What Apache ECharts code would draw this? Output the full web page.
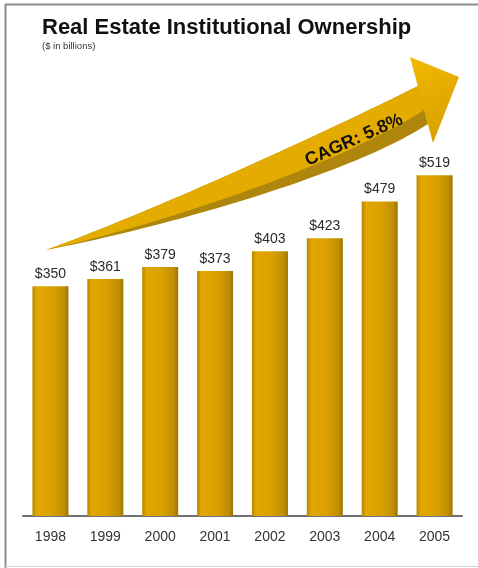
<!DOCTYPE html>
<html>
<head>
<meta charset="utf-8">
<script src="https://cdn.jsdelivr.net/npm/echarts@6/dist/echarts.min.js"></script>
<style>
  html, body { margin: 0; padding: 0; background: #fff; }
  #chart { width: 478px; height: 568px; }
</style>
</head>
<body>
<div id="chart"></div>
<script>
var years = ['1998', '1999', '2000', '2001', '2002', '2003', '2004', '2005'];
var ownership = [350, 361, 379, 373, 403, 423, 479, 519];
var cagrText = 'CAGR: 5.8%';

var chart = echarts.init(document.getElementById('chart'));
var font = '"Liberation Sans", Arial, sans-serif';

// sample a cubic curve into points (for the arrow outline)
function cubic(p0, p1, p2, p3, n) {
  var pts = [];
  for (var i = 0; i <= n; i++) {
    var t = i / n, u = 1 - t;
    pts.push([
      u*u*u*p0[0] + 3*u*u*t*p1[0] + 3*u*t*t*p2[0] + t*t*t*p3[0],
      u*u*u*p0[1] + 3*u*u*t*p1[1] + 3*u*t*t*p2[1] + t*t*t*p3[1]
    ]);
  }
  return pts;
}
var upper = cubic([46, 250], [150, 212], [310, 140], [418, 86], 40);
var lowerDark = cubic([428, 124], [355, 172], [175, 225], [46, 250], 40);
var lowerLight = cubic([424, 110], [345, 162], [170, 222], [46, 250], 40);

// bar fill: gold, darker at the edges
var barFill = new echarts.graphic.LinearGradient(0, 0, 1, 0, [
  { offset: 0, color: '#B58800' },
  { offset: 0.12, color: '#E2A700' },
  { offset: 0.55, color: '#D9A000' },
  { offset: 0.88, color: '#BF8E00' },
  { offset: 1, color: '#9A7400' }
]);

var option = {
  animation: false,
  backgroundColor: '#fff',
  grid: { left: 23, right: 16, top: 122, bottom: 52 },
  xAxis: {
    type: 'category',
    data: years,
    axisLine: { lineStyle: { color: '#6b7079', width: 2 } },
    axisTick: { show: false },
    axisLabel: { color: '#333', fontSize: 14, margin: 14, fontFamily: font }
  },
  yAxis: {
    type: 'value',
    min: 0,
    max: 600,
    show: false
  },
  series: [{
    type: 'bar',
    data: ownership,
    barWidth: 36,
    itemStyle: { color: barFill },
    label: {
      show: true,
      position: 'top',
      distance: 5,
      color: '#2b2b2b',
      fontSize: 14,
      fontFamily: font,
      formatter: function (p) { return '$' + p.value; }
    }
  }],
  graphic: [
    // frame
    { type: 'line', shape: { x1: 5.5, y1: 4, x2: 5.5, y2: 568 }, style: { stroke: '#8c8c8c', lineWidth: 2 } },
    { type: 'line', shape: { x1: 5, y1: 4.5, x2: 478, y2: 4.5 }, style: { stroke: '#8c8c8c', lineWidth: 2 } },
    { type: 'line', shape: { x1: 5, y1: 566.5, x2: 478, y2: 566.5 }, style: { stroke: '#d4d4d4', lineWidth: 1 } },
    {
      type: 'text', x: 42, y: 17,
      style: { text: 'Real Estate Institutional Ownership', font: 'bold 22px ' + font, fill: '#111' }
    },
    {
      type: 'text', x: 42, y: 41,
      style: { text: '($ in billions)', font: '9.5px ' + font, fill: '#333' }
    },
    // growth arrow: dark shaft, lighter upper part, head
    { type: 'polygon', shape: { points: upper.concat(lowerDark) }, style: { fill: '#AE860C' } },
    { type: 'polygon', shape: { points: upper.concat(lowerLight) }, style: { fill: '#E4AC00' } },
    {
      type: 'polygon',
      shape: { points: [[410, 57], [459, 77], [433, 143]] },
      style: {
        fill: new echarts.graphic.LinearGradient(0, 0, 1, 1, [
          { offset: 0, color: '#F2B800' },
          { offset: 1, color: '#D49E00' }
        ])
      }
    },
    {
      type: 'text', x: 354, y: 140, rotation: 0.42,
      style: {
        text: cagrText, font: 'bold 18px ' + font, fill: '#111',
        align: 'center', verticalAlign: 'middle'
      }
    }
  ]
};

chart.setOption(option);
</script>
</body>
</html>
